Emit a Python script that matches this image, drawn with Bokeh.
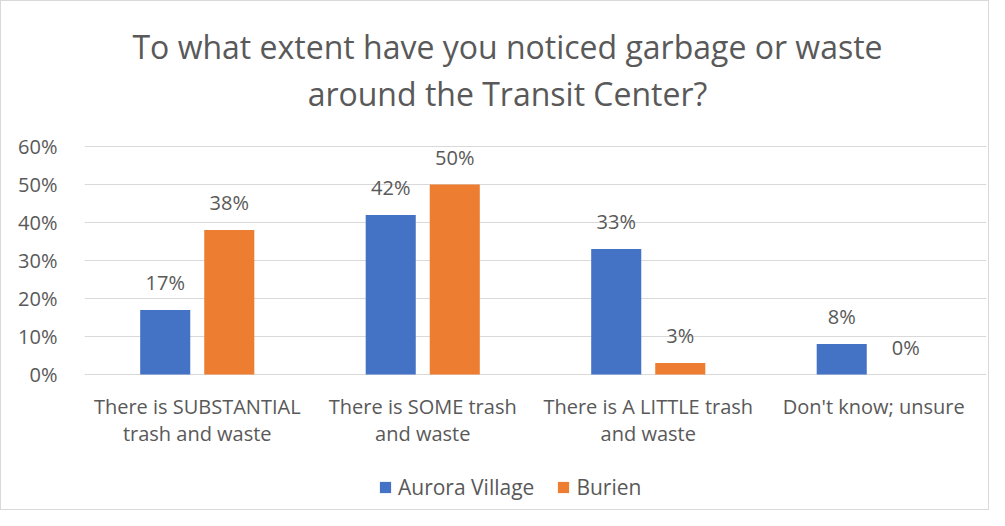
from bokeh.plotting import figure
from bokeh.models import ColumnDataSource, Range1d, LabelSet, Label, Legend, NumeralTickFormatter, FixedTicker
from bokeh.core.properties import value
from bokeh.transform import dodge
from bokeh.embed import file_html
from bokeh.resources import INLINE

categories_line1 = ["There is SUBSTANTIAL", "There is SOME trash", "There is A LITTLE trash", "Don't know; unsure"]
categories_line2 = ["trash and waste", "and waste", "and waste", ""]
aurora_village = [0.17, 0.42, 0.33, 0.08]
burien = [0.38, 0.50, 0.03, 0.0]
series_names = ["Aurora Village", "Burien"]
y_ticks = [0, 0.1, 0.2, 0.3, 0.4, 0.5, 0.6]
title_lines = ["To what extent have you noticed garbage or waste", "around the Transit Center?"]

FONT = "Open Sans"
GREY = "#595959"
idx = list(range(len(categories_line1)))

# layout (pixels): the frame spans the whole chart; 0..60% occupies 228 px
W, H = 989, 510
PAD_L, PAD_R, PAD_T, PAD_B = 83, 4, 5, 5
PX_PER_UNIT = 380.0
ZERO_FROM_TOP = 373
y_hi = 0.6 + (ZERO_FROM_TOP - 228 - PAD_T) / PX_PER_UNIT
y_lo = y_hi - (H - PAD_T - PAD_B) / PX_PER_UNIT

src = ColumnDataSource(dict(
    pos=idx, zero=[0] * len(idx), av=aurora_village, bu=burien,
    av_lbl=[f"{round(v*100)}%" for v in aurora_village],
    bu_lbl=[f"{round(v*100)}%" for v in burien],
    c1=categories_line1, c2=categories_line2,
))

p = figure(x_range=Range1d(-0.5, len(idx) - 0.5), y_range=Range1d(y_lo, y_hi),
           width=W, height=H, output_backend="svg", toolbar_location=None,
           min_border_left=PAD_L, min_border_right=PAD_R, min_border_top=PAD_T, min_border_bottom=PAD_B)
p.styles = {"border": "1px solid #D9D9D9"}
p.outline_line_color = None

r1 = p.vbar(x=dodge("pos", -0.142), top="av", width=0.222, source=src,
            color="#4472C4", line_color=None)
r2 = p.vbar(x=dodge("pos", 0.142), top="bu", width=0.222, source=src,
            color="#ED7D31", line_color=None)

for xo, col in [(-0.142, "av"), (0.142, "bu")]:
    p.add_layout(LabelSet(x=dodge("pos", xo), y=col, text=col + "_lbl", source=src,
                          text_align="center", text_baseline="bottom", y_offset=14,
                          text_font=value(FONT), text_font_size="20px", text_color=GREY))

# category labels (two lines each) under the zero line
for col, off in [("c1", -32), ("c2", -59)]:
    p.add_layout(LabelSet(x="pos", y="zero", text=col, source=src,
                          text_align="center", text_baseline="middle", y_offset=off,
                          text_font=value(FONT), text_font_size="20px", text_color=GREY))

p.yaxis.ticker = FixedTicker(ticks=y_ticks)
p.yaxis.formatter = NumeralTickFormatter(format="0%")
p.yaxis.axis_line_color = None
p.yaxis.major_tick_line_color = None
p.yaxis.minor_tick_line_color = None
p.yaxis.major_tick_out = 0
p.yaxis.major_tick_in = 0
p.yaxis.major_label_standoff = 27
p.yaxis.major_label_text_font = FONT
p.yaxis.major_label_text_font_size = "20px"
p.yaxis.major_label_text_color = GREY

p.xaxis.visible = False
p.xgrid.grid_line_color = None
p.ygrid.ticker = FixedTicker(ticks=y_ticks)
p.ygrid.grid_line_color = "#D9D9D9"

# title, two lines, centred on the chart
title_x = -0.5 + (506 - PAD_L) / 225.5
for txt, y_px in [(title_lines[0], 45), (title_lines[1], 92)]:
    p.add_layout(Label(x=title_x, y=y_hi - (y_px - PAD_T) / PX_PER_UNIT, text=txt,
                       text_align="center", text_baseline="middle",
                       text_font=FONT, text_font_size="32px", text_color=GREY))

legend = Legend(items=[(series_names[0], [r1]), (series_names[1], [r2])], orientation="horizontal",
                location=(294, 5), label_text_font=FONT, label_text_font_size="21px",
                label_text_color=GREY, glyph_width=14, glyph_height=14, spacing=22,
                border_line_color=None, background_fill_alpha=0, margin=0, padding=0,
                label_standoff=6)
p.add_layout(legend, "center")

open("out.html", "w").write(file_html(p, INLINE))
